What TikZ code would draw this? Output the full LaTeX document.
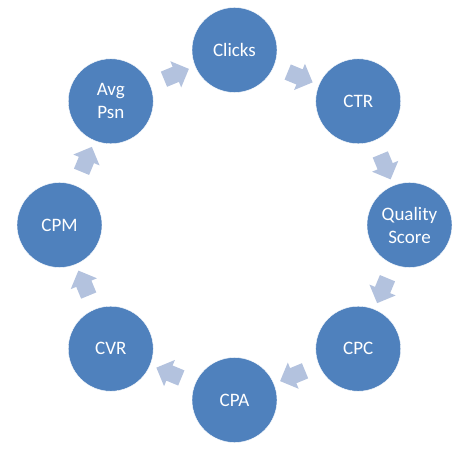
\documentclass[tikz,border=0pt]{standalone}
\usepackage{fontspec}
\setmainfont{Carlito}
\usetikzlibrary{calc}
\usetikzlibrary{shapes.arrows}

\definecolor{ringblue}{RGB}{79,129,189}
\definecolor{arrowblue}{RGB}{179,194,222}

\tikzset{
  metric/.style={circle, fill=ringblue, draw=white, thin, minimum size=85pt,
    inner sep=0pt, text=white, align=center,
    font=\fontsize{19}{23}\selectfont},
  flowarrow/.style={single arrow, fill=arrowblue, draw=none,
    minimum height=27pt, inner xsep=0pt, inner ysep=8pt,
    single arrow head extend=6pt}
}

\begin{document}
\begin{tikzpicture}
    \useasboundingbox (-234.5pt,-229pt) rectangle (235.5pt,225pt);

    % the eight metrics round the ring
    \node [metric] (clicks)  at (90:175pt)   {Clicks};
    \node [metric] (ctr)     at (45:175pt)   {CTR};
    \node [metric] (quality) at (0:175pt)    {Quality\\Score};
    \node [metric] (cpc)     at (-45:175pt)  {CPC};
    \node [metric] (cpa)     at (-90:175pt)  {CPA};
    \node [metric] (cvr)     at (-135:175pt) {CVR};
    \node [metric] (cpm)     at (180:175pt)  {CPM};
    \node [metric] (avgpsn)  at (135:175pt)  {Avg\\Psn};

    % block arrows, clockwise
    \foreach \a/\b/\ang in {clicks/ctr/-22.5, ctr/quality/-67.5,
        quality/cpc/-112.5, cpc/cpa/-157.5, cpa/cvr/-202.5,
        cvr/cpm/-247.5, cpm/avgpsn/67.5, avgpsn/clicks/22.5}
        \node [flowarrow, rotate=\ang] (\a-\b) at ($(\a)!0.5!(\b)$) {};

\end{tikzpicture}
\end{document}
